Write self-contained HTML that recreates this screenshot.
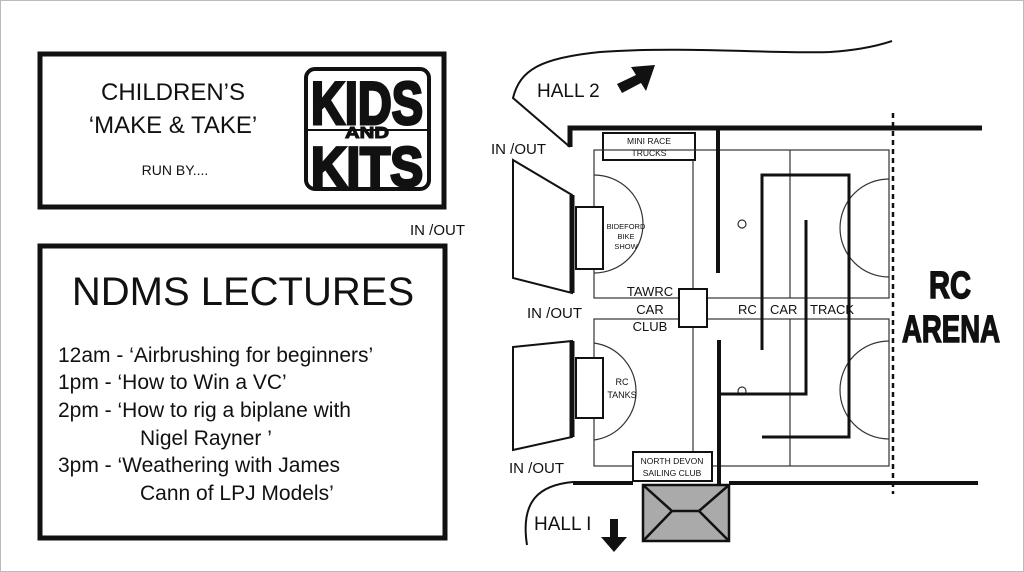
<!DOCTYPE html>
<html><head><style>
html,body{margin:0;padding:0;background:#fff;}
svg{display:block;}
text{font-family:"Liberation Sans",sans-serif;fill:#111;}
</style></head><body>
<svg width="1024" height="572" viewBox="0 0 1024 572" xmlns="http://www.w3.org/2000/svg">
<rect x="0.5" y="0.5" width="1023" height="571" fill="#fff" stroke="#bbb"/>
<rect x="40" y="54" width="404" height="153" fill="none" stroke="#111" stroke-width="5"/>
<text x="173" y="100" font-size="24" text-anchor="middle">CHILDREN’S</text>
<text x="173" y="133" font-size="24" text-anchor="middle">‘MAKE &amp; TAKE’</text>
<text x="175" y="175" font-size="14" text-anchor="middle">RUN BY....</text>
<rect x="306" y="69" width="123" height="120" rx="9" fill="none" stroke="#111" stroke-width="4"/>
<line x1="306" y1="130" x2="429" y2="130" stroke="#111" stroke-width="2"/>
<text x="367" y="124" font-size="60" font-weight="bold" text-anchor="middle" textLength="112" lengthAdjust="spacingAndGlyphs" stroke="#111" stroke-width="3">KIDS</text>
<text x="367" y="138" font-size="16" font-weight="bold" text-anchor="middle" textLength="44" lengthAdjust="spacingAndGlyphs" stroke="#111" stroke-width="1">AND</text>
<text x="367" y="186" font-size="56" font-weight="bold" text-anchor="middle" textLength="112" lengthAdjust="spacingAndGlyphs" stroke="#111" stroke-width="3">KITS</text>
<rect x="40" y="246" width="405" height="292" fill="none" stroke="#111" stroke-width="5"/>
<text x="243" y="305" font-size="40" text-anchor="middle">NDMS LECTURES</text>
<g font-size="21">
<text x="58" y="362">12am - ‘Airbrushing for beginners’</text>
<text x="58" y="389">1pm - ‘How to Win a VC’</text>
<text x="58" y="417">2pm - ‘How to rig a biplane with</text>
<text x="140" y="445">Nigel Rayner ’</text>
<text x="58" y="472">3pm - ‘Weathering with James</text>
<text x="140" y="500">Cann of LPJ Models’</text>
</g>
<g font-size="15">
<text x="491" y="154">IN /OUT</text>
<text x="410" y="235">IN /OUT</text>
<text x="527" y="318">IN /OUT</text>
<text x="509" y="473">IN /OUT</text>
</g>
<path d="M570,147 L513,98 C520,70 540,58 600,52 C680,46 780,54 830,52 C860,50 880,45 892,41" fill="none" stroke="#111" stroke-width="2"/>
<path d="M570,147 L570,128 L982,128" fill="none" stroke="#111" stroke-width="5"/>
<text x="537" y="97" font-size="19">HALL 2</text>
<path d="M617,84 L636,75 L631,67 L655,65 L646,91 L641,83 L622,93 Z" fill="#111"/>
<rect x="603" y="133" width="92" height="27" fill="#fff" stroke="#111" stroke-width="2"/>
<text x="649" y="144" font-size="8.5" text-anchor="middle">MINI RACE</text>
<text x="649" y="156" font-size="8.5" text-anchor="middle">TRUCKS</text>
<g fill="none" stroke="#333" stroke-width="1.2">
<rect x="594" y="150" width="295" height="148"/>
<line x1="693" y1="160" x2="693" y2="298"/>
<line x1="790" y1="150" x2="790" y2="298"/>
<rect x="594" y="319" width="295" height="147"/>
<line x1="693" y1="328" x2="693" y2="452"/>
<line x1="790" y1="319" x2="790" y2="466"/>
<path d="M889,179 A49,49 0 0 0 889,277"/>
<path d="M889,341 A49,49 0 0 0 889,439"/>
<path d="M594,175 A49,49 0 0 1 594,273"/>
<path d="M594,343 A49,49 0 0 1 594,440"/>
<circle cx="742" cy="224" r="4"/>
<circle cx="742" cy="391" r="4"/>
</g>
<g fill="none" stroke="#111" stroke-width="3">
<path d="M762,350 L762,175 L849,175 L849,437 L762,437"/>
<path d="M806,220 L806,394 L720,394"/>
</g>
<line x1="718" y1="128" x2="718" y2="273" stroke="#111" stroke-width="4"/>
<line x1="719" y1="340" x2="719" y2="484" stroke="#111" stroke-width="4"/>
<rect x="679" y="289" width="28" height="38" fill="#fff" stroke="#111" stroke-width="2"/>
<g font-size="13" text-anchor="middle">
<text x="650" y="296">TAWRC</text>
<text x="650" y="314">CAR</text>
<text x="650" y="331">CLUB</text>
</g>
<g font-size="13">
<text x="738" y="314">RC</text>
<text x="770" y="314">CAR</text>
<text x="810" y="314">TRACK</text>
</g>
<path d="M513,160 L572,195 L572,293 L513,278 Z" fill="#fff" stroke="#111" stroke-width="2"/>
<line x1="572" y1="195" x2="572" y2="293" stroke="#111" stroke-width="5"/>
<rect x="576" y="207" width="27" height="62" fill="#fff" stroke="#111" stroke-width="2"/>
<path d="M513,347 L572,341 L572,437 L513,450 Z" fill="#fff" stroke="#111" stroke-width="2"/>
<line x1="572" y1="341" x2="572" y2="437" stroke="#111" stroke-width="5"/>
<rect x="576" y="358" width="27" height="60" fill="#fff" stroke="#111" stroke-width="2"/>
<g font-size="7.5" text-anchor="middle">
<text x="626" y="229">BIDEFORD</text>
<text x="626" y="239">BIKE</text>
<text x="626" y="249">SHOW</text>
</g>
<g font-size="9" text-anchor="middle">
<text x="622" y="385">RC</text>
<text x="622" y="398">TANKS</text>
</g>
<rect x="633" y="452" width="79" height="29" fill="#fff" stroke="#111" stroke-width="2"/>
<text x="672" y="464" font-size="8.5" text-anchor="middle">NORTH DEVON</text>
<text x="672" y="476" font-size="8.5" text-anchor="middle">SAILING CLUB</text>
<line x1="573" y1="483" x2="633" y2="483" stroke="#111" stroke-width="4"/>
<line x1="729" y1="483" x2="978" y2="483" stroke="#111" stroke-width="4"/>
<rect x="643" y="485" width="86" height="56" fill="#aaa" stroke="#111" stroke-width="2.5"/>
<path d="M643,485 L672,511 L699,511 L729,485 M643,541 L672,511 M699,511 L729,541" fill="none" stroke="#111" stroke-width="2.5"/>
<path d="M573,482 C540,485 520,500 527,545" fill="none" stroke="#111" stroke-width="2"/>
<text x="534" y="530" font-size="19">HALL I</text>
<path d="M610,519 L618,519 L618,537 L627,537 L614,552 L601,537 L610,537 Z" fill="#111"/>
<line x1="893" y1="113" x2="893" y2="494" stroke="#111" stroke-width="2.5" stroke-dasharray="5,4"/>
<text x="950" y="298" font-size="38" font-weight="bold" text-anchor="middle" textLength="42" lengthAdjust="spacingAndGlyphs" stroke="#111" stroke-width="1.5">RC</text>
<text x="951" y="342" font-size="38" font-weight="bold" text-anchor="middle" textLength="98" lengthAdjust="spacingAndGlyphs" stroke="#111" stroke-width="1.5">ARENA</text>
</svg>
</body></html>
